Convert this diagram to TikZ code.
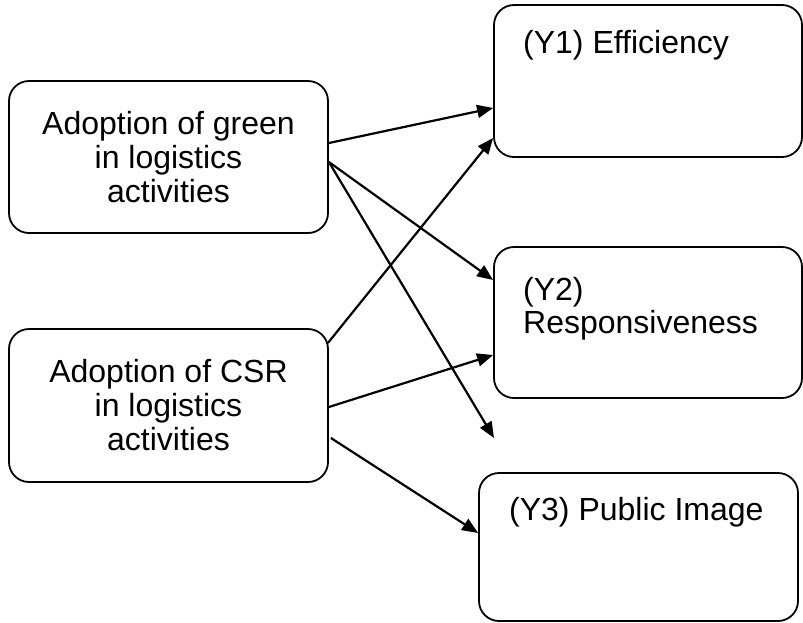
\documentclass[tikz,border=0pt]{standalone}
\usepackage{fontspec}
\setmainfont{Liberation Sans}
\usetikzlibrary{arrows.meta,calc}
\tikzset{
  box/.style={draw, line width=1.8pt, rounded corners=20pt, inner sep=0pt},
  lbl/.style={font=\fontsize{32}{33}\selectfont, anchor=base west, inner sep=0pt},
  ctr/.style={font=\fontsize{32}{34}\selectfont, align=center},
  arr/.style={line width=2.2pt, -{Triangle[length=16pt,width=13pt]}}
}
\begin{document}
\begin{tikzpicture}[x=1pt,y=1pt]
\useasboundingbox (0,0) rectangle (803,-622);
% left boxes
\node[box, minimum width=319pt, minimum height=152pt, ctr] (g) at (168.5,-157) {Adoption of green\\in logistics\\activities};
\node[box, minimum width=319pt, minimum height=153pt, ctr] (c) at (168.5,-405.5) {Adoption of CSR\\in logistics\\activities};
% right boxes
\node[box, minimum width=308pt, minimum height=152pt] (y1) at (648,-81) {};
\node[box, minimum width=308pt, minimum height=151pt] (y2) at (648,-322.5) {};
\node[box, minimum width=319pt, minimum height=148pt] (y3) at (638.5,-547) {};
% labels
\node[lbl] (t1) at (523,-53) {(Y1) Efficiency};
\node[lbl, align=left, anchor=north west] (t2) at (523,-277) {(Y2)\\Responsiveness};
\node[lbl] (t3) at (509,-520) {(Y3) Public Image};
% free end
\coordinate (free) at (494,-438);
% arrows
\draw[arr] ($(g.east)+(0,14)$) -- ($(y1.west)+(0,-27)$);
\draw[arr] ($(g.east)+(0,-5)$) -- ($(y2.west)+(0,42.5)$);
\draw[arr] ($(g.east)+(0,-5)$) -- (free);
\draw[arr] ($(c.east)+(-1,62.5)$) -- ($(y1.west)+(0,-57)$);
\draw[arr] ($(c.east)+(0,-1.5)$) -- ($(y2.west)+(0,-32.5)$);
\draw[arr] ($(c.east)+(2,-32.5)$) -- ($(y3.west)+(0,14)$);
\end{tikzpicture}
\end{document}
